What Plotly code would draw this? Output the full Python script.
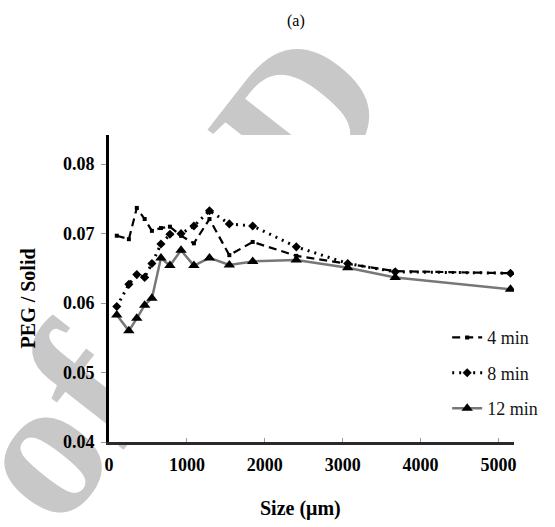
import plotly.graph_objects as go

# Particle size classes (µm) and PEG/solid ratio for each mixing time
size_um = [100, 255, 357, 458, 551, 667, 782, 925, 1090, 1290, 1545, 1845, 2405, 3065, 3675, 5155]
peg_4min = [0.0697, 0.0692, 0.0737, 0.0721, 0.0704, 0.0708, 0.0710, 0.0697, 0.0686, 0.0721,
            0.0669, 0.0688, 0.0668, 0.0656, 0.0646, 0.0643]
peg_8min = [0.0595, 0.0627, 0.0641, 0.0637, 0.0657, 0.0685, 0.0699, 0.0700, 0.0711, 0.0733,
            0.0714, 0.0711, 0.0681, 0.0657, 0.0645, 0.0643]
peg_12min = [0.0583, 0.0560, 0.0578, 0.0597, 0.0607, 0.0665, 0.0654, 0.0676, 0.0654, 0.0665,
             0.0655, 0.0660, 0.0662, 0.0651, 0.0637, 0.0620]

x_ticks = [0, 1000, 2000, 3000, 4000, 5000]
y_ticks = [0.04, 0.05, 0.06, 0.07, 0.08]

SERIF = "Liberation Serif, Times New Roman, Times, serif"

fig = go.Figure()

fig.add_trace(go.Scatter(
    x=size_um, y=peg_4min, name="4 min", mode="lines+markers", legendgroup="a",
    line=dict(color="black", width=2.2, dash="8px,5px"),
    marker=dict(symbol="square", size=4, color="black"),
))
fig.add_trace(go.Scatter(
    x=size_um, y=peg_8min, name="8 min", mode="lines+markers", legendgroup="b",
    line=dict(color="black", width=3, dash="2px,5px"),
    marker=dict(symbol="diamond", size=7, color="black"),
))
fig.add_trace(go.Scatter(
    x=size_um, y=peg_12min, name="12 min", mode="lines+markers", legendgroup="c",
    line=dict(color="#777777", width=2.5),
    marker=dict(symbol="triangle-up", size=10, color="black"),
))

fig.update_layout(
    width=555, height=527,
    margin=dict(l=109, r=19, t=135, b=85),
    paper_bgcolor="white", plot_bgcolor="white",
    showlegend=True,
    legend=dict(
        x=0.835, y=0.40, xanchor="left", yanchor="top",
        bgcolor="rgba(0,0,0,0)", tracegroupgap=9,
        font=dict(family=SERIF, size=18, color="#151515"),
    ),
    xaxis=dict(
        range=[0, 5200], tickvals=x_ticks, ticktext=[str(v) for v in x_ticks],
        showline=True, linecolor="#2a2a2a", linewidth=3,
        ticks="inside", ticklen=4, tickcolor="#999999", tickwidth=1,
        showgrid=False, zeroline=False, ticklabelstandoff=4,
        tickfont=dict(family=SERIF, size=18, color="black", weight="bold"),
    ),
    yaxis=dict(
        range=[0.04, 0.0842], tickvals=y_ticks, tickformat=".2f",
        showline=True, linecolor="black", linewidth=3,
        ticks="outside", ticklen=5, tickcolor="#999999", tickwidth=1,
        showgrid=False, zeroline=False, ticklabelstandoff=3,
        tickfont=dict(family=SERIF, size=18, color="black", weight="bold"),
    ),
    shapes=[
        # grey diagonal watermark behind the chart
        dict(type="rect", xref="paper", yref="paper", x0=0.07, x1=0.17, y0=0.54, y1=0.64,
             layer="below", line=dict(width=0), fillcolor="rgba(0,0,0,0)",
             label=dict(text="of SID", textangle=-52, textposition="middle center",
                        font=dict(family=SERIF, size=200, color="#c8c8c8", weight="bold"))),
        # opaque plotting area
        dict(type="rect", xref="paper", yref="paper", x0=0, x1=1, y0=0, y1=1,
             layer="below", line=dict(width=0), fillcolor="white"),
    ],
    annotations=[
        dict(text="(a)", xref="paper", yref="paper", x=0.461, y=1.372, showarrow=False,
             xanchor="center", yanchor="middle",
             font=dict(family=SERIF, size=16, color="black")),
        dict(text="Size (\u03bcm)", xref="paper", yref="paper", x=0.473, y=-0.216, showarrow=False,
             xanchor="center", yanchor="middle",
             font=dict(family=SERIF, size=20, color="black", weight="bold")),
        dict(text="PEG / Solid", xref="paper", yref="paper", x=-0.199, y=0.469, showarrow=False,
             xanchor="center", yanchor="middle", textangle=-90,
             font=dict(family=SERIF, size=20, color="black", weight="bold")),
    ],
)

fig.write_html("out.html")
